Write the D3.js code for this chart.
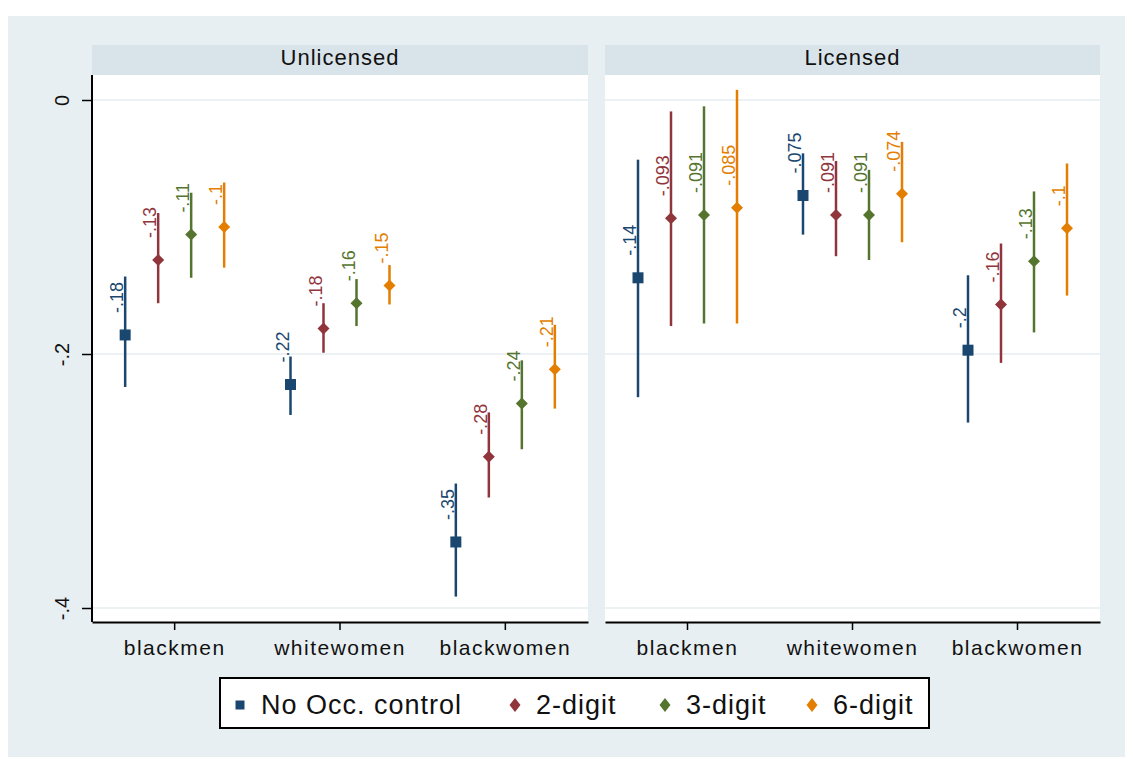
<!DOCTYPE html>
<html>
<head>
  <meta charset='utf-8'>
  <title>Gap estimates</title>
  <script src="https://cdnjs.cloudflare.com/ajax/libs/d3/7.8.5/d3.min.js"></script>
  <style>
    body { margin: 0; background: #fff; }
    text { font-family: "Liberation Sans", Arial, sans-serif; }
  </style>
</head>
<body>
  <svg width="1133" height="759" id="chart"></svg>
  <script>
    const panels = ["Unlicensed", "Licensed"];
    const groups = ["blackmen", "whitewomen", "blackwomen"];
    const seriesNames = ["No Occ. control", "2-digit", "3-digit", "6-digit"];
    const colors = ["#1a476f", "#90353b", "#55752f", "#e37e00"];
    const yTicks = [0, -0.2, -0.4];

    // point estimates, one row per series, one value per group
    const unlicensedEst = [
      [-0.185, -0.224, -0.348],
      [-0.126, -0.180, -0.281],
      [-0.106, -0.160, -0.239],
      [-0.100, -0.146, -0.212]
    ];
    const unlicensedLo = [
      [-0.226, -0.248, -0.391],
      [-0.160, -0.199, -0.313],
      [-0.140, -0.178, -0.275],
      [-0.132, -0.161, -0.243]
    ];
    const unlicensedHi = [
      [-0.139, -0.202, -0.302],
      [-0.089, -0.160, -0.246],
      [-0.073, -0.141, -0.205],
      [-0.065, -0.130, -0.177]
    ];

    const licensedEst = [
      [-0.140, -0.0752, -0.197],
      [-0.0932, -0.0906, -0.161],
      [-0.0906, -0.0906, -0.127],
      [-0.0848, -0.0738, -0.101]
    ];
    const licensedLo = [
      [-0.234, -0.106, -0.254],
      [-0.178, -0.123, -0.207],
      [-0.176, -0.126, -0.183],
      [-0.176, -0.112, -0.154]
    ];
    const licensedHi = [
      [-0.047, -0.042, -0.138],
      [-0.009, -0.048, -0.113],
      [-0.005, -0.055, -0.072],
      [0.008, -0.033, -0.050]
    ];

    const panelData = [
      { est: unlicensedEst, lo: unlicensedLo, hi: unlicensedHi },
      { est: licensedEst, lo: licensedLo, hi: licensedHi }
    ];

    const svg = d3.select('#chart');

    // graph region
    svg.append('rect').attr('x', 8).attr('y', 16).attr('width', 1117).attr('height', 741)
      .attr('fill', '#e8eff2');

    const plotTop = 75, plotBottom = 622;
    const panelX = [[92, 588], [605, 1100]];

    const y = d3.scaleLinear().domain([-0.4, 0]).range([608, 100]);
    const offset = d3.scalePoint().domain(seriesNames).range([-49.5, 49.5]);

    const fmt = v => d3.format(".2~g")(v).replace("0.", ".").replace("−", "-");

    panels.forEach((name, p) => {
      const [x0, x1] = panelX[p];
      const x = d3.scaleBand().domain(groups).range([x0, x1]);
      const g = svg.append('g');

      // header strip
      g.append('rect').attr('x', x0).attr('y', 45).attr('width', x1 - x0).attr('height', 30)
        .attr('fill', '#d9e4ea');
      g.append('text').attr('x', (x0 + x1) / 2).attr('y', 65)
        .attr('text-anchor', 'middle').attr('font-size', 22).attr('letter-spacing', 1)
        .attr('fill', '#111').text(name);

      // plot region
      g.append('rect').attr('x', x0).attr('y', plotTop).attr('width', x1 - x0)
        .attr('height', plotBottom - plotTop).attr('fill', '#fff');

      g.selectAll('.grid').data(yTicks).join('line')
        .attr('x1', x0).attr('x2', x1)
        .attr('y1', d => y(d)).attr('y2', d => y(d))
        .attr('stroke', '#e6eef1').attr('stroke-width', 1.5);

      // x axis
      const xAxis = g.append('g').attr('transform', `translate(0,${plotBottom})`)
        .call(d3.axisBottom(x).tickSize(8).tickSizeOuter(0));
      xAxis.select('.domain').attr('stroke', '#000').attr('stroke-width', 2);
      xAxis.selectAll('.tick line').attr('stroke', '#000').attr('stroke-width', 1.5);
      xAxis.selectAll('.tick text').attr('font-size', 21).attr('letter-spacing', 1.5)
        .attr('fill', '#111').attr('dy', '1.05em')
        .style('font-family', '"Liberation Sans", Arial, sans-serif');

      // y axis on the first panel only
      if (p === 0) {
        const yAxis = g.append('g').attr('transform', `translate(${x0},0)`)
          .call(d3.axisLeft(y).tickValues(yTicks).tickSize(10).tickFormat(fmt));
        yAxis.select('.domain').attr('d', `M0,${plotTop}V${plotBottom}`)
          .attr('stroke', '#000').attr('stroke-width', 2);
        yAxis.selectAll('.tick line').attr('stroke', '#000').attr('stroke-width', 1.5);
        yAxis.selectAll('.tick text')
          .attr('x', null).attr('dy', null)
          .attr('text-anchor', 'middle')
          .attr('transform', 'translate(-23,0) rotate(-90)')
          .attr('font-size', 20).attr('fill', '#111')
          .style('font-family', '"Liberation Sans", Arial, sans-serif');
      }

      const d = panelData[p];
      const points = [];
      seriesNames.forEach((s, si) => {
        groups.forEach((grp, gi) => {
          points.push({ s, si, grp, est: d.est[si][gi], lo: d.lo[si][gi], hi: d.hi[si][gi] });
        });
      });
      const px = pt => x(pt.grp) + x.bandwidth() / 2 + offset(pt.s);

      g.selectAll('.ci').data(points).join('line')
        .attr('x1', px).attr('x2', px)
        .attr('y1', pt => y(pt.lo)).attr('y2', pt => y(pt.hi))
        .attr('stroke', pt => colors[pt.si]).attr('stroke-width', 2.5);

      g.selectAll('.mk').data(points).join('path')
        .attr('transform', pt => `translate(${px(pt)},${y(pt.est)})`)
        .attr('d', pt => pt.si === 0 ? 'M-5.5,-5.5H5.5V5.5H-5.5Z' : 'M0,-6L6,0L0,6L-6,0Z')
        .attr('fill', pt => colors[pt.si]);

      g.selectAll('.lbl').data(points).join('text')
        .attr('transform', pt => `translate(${px(pt) - 2},${y(pt.est) - 22}) rotate(-90)`)
        .attr('font-size', 18).attr('fill', pt => colors[pt.si])
        .text(pt => fmt(pt.est));
    });

    // legend
    const legend = svg.append('g');
    legend.append('rect').attr('x', 220).attr('y', 678).attr('width', 709).attr('height', 50)
      .attr('fill', '#fff').attr('stroke', '#000').attr('stroke-width', 2);
    const legMarkX = [240, 515, 665, 812];
    const item = legend.selectAll('.item').data(seriesNames).join('g')
      .attr('transform', (s, i) => `translate(${legMarkX[i]},705)`);
    item.append('path')
      .attr('d', (s, i) => i === 0 ? 'M-4.5,-4.5H4.5V4.5H-4.5Z' : 'M0,-7L5.5,0L0,7L-5.5,0Z')
      .attr('fill', (s, i) => colors[i]);
    item.append('text').attr('x', 21).attr('y', 9)
      .attr('font-size', 27).attr('letter-spacing', 1).attr('fill', '#111')
      .text(s => s);
  </script>
</body>
</html>
